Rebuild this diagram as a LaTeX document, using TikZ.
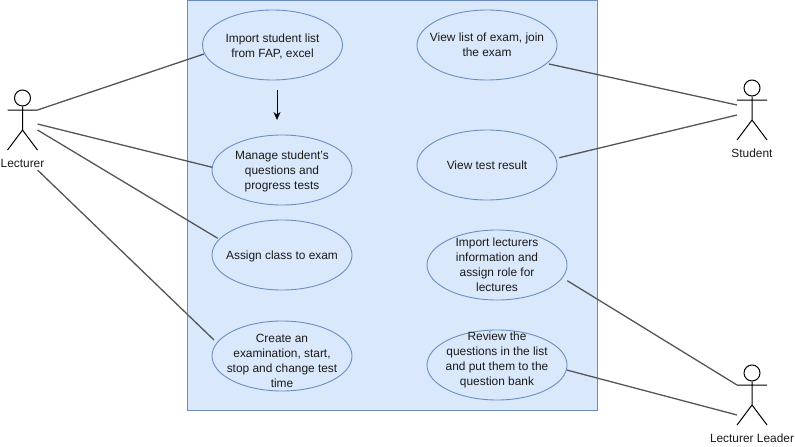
\documentclass[tikz,border=0pt]{standalone}
\usepackage{fontspec}
\setmainfont{Liberation Sans}
\definecolor{bluefill}{HTML}{DAE8FC}
\definecolor{bluestroke}{HTML}{6C8EBF}
\definecolor{linkgray}{HTML}{555555}
\definecolor{txt}{HTML}{1A1A1A}
\usetikzlibrary{shapes.geometric,arrows.meta,calc}
\tikzset{
  usecase/.style={ellipse,draw=bluestroke,fill=bluefill,line width=0.9pt,minimum width=140pt,minimum height=70pt,inner sep=0pt},
  usetext/.style={align=center,inner sep=0pt,font=\fontsize{11.9}{15}\selectfont,text=txt},
  link/.style={draw=linkgray,line width=1.3pt},
  stick/.style={draw=black,line width=1pt},
  head/.style={circle,draw=black,line width=1pt,minimum size=16pt,inner sep=0pt},
  actorlabel/.style={font=\fontsize{11.9}{15}\selectfont,text=txt,inner sep=0pt},
}
\newcommand{\usecasebox}[5]{% name, x, y, text offset, text
  \node[usecase] (#1) at (#2,#3) {};
  \node[usetext] (#1text) at (#2,#3+#4) {#5};
}
\newcommand{\actor}[4]{% name, x, headY, label
  \node[head] (#1) at (#2,#3) {};
  \coordinate (#1hip) at (#2,#3+32);
  \coordinate (#1la) at (#2-15,#3+12);
  \coordinate (#1ra) at (#2+15,#3+12);
  \coordinate (#1lf) at (#2-15,#3+52);
  \coordinate (#1rf) at (#2+15,#3+52);
  \draw[stick] (#1.south) -- (#1hip) -- (#1lf) (#1hip) -- (#1rf) (#1la) -- (#1ra);
  \node[actorlabel] (#1text) at (#2,#3+65) {#4};
}
\begin{document}
\begin{tikzpicture}[x=1pt,y=-1pt]
\useasboundingbox (0,0) rectangle (795,447);
\node[draw=bluestroke,fill=bluefill,line width=1pt,minimum width=410pt,minimum height=410pt,inner sep=0pt] (system) at (392,205) {};
\usecasebox{n1}{272.5}{45}{1}{Import student list\\from FAP, excel}
\usecasebox{n2}{282}{170}{1}{Manage student's\\questions and\\progress tests}
\usecasebox{n3}{282}{255}{1}{Assign class to exam}
\usecasebox{n4}{282}{356}{5}{Create an\\examination, start,\\stop and change test\\time}
\usecasebox{n5}{487}{45}{0}{View list of exam, join\\the exam}
\usecasebox{n6}{487}{165}{0}{View test result}
\usecasebox{n7}{497}{265}{0}{Import lecturers\\information and\\assign role for\\lectures}
\usecasebox{n8}{497}{365}{-5}{Review the\\questions in the list\\and put them to the\\question bank}
\actor{lec}{22.5}{98}{Lecturer}
\actor{stu}{752}{88}{Student}
\actor{lea}{752}{373}{Lecturer Leader}
\coordinate (lecA) at (37.5,110);
\coordinate (lecB) at (37.5,124);
\coordinate (lecC) at (37.5,130);
\coordinate (lecD) at (37.5,170);
\coordinate (stuA) at (737,105);
\coordinate (stuB) at (737,115);
\coordinate (leaA) at (737,385);
\coordinate (leaB) at (737,415);
\draw[link] (lecA) -- ($(n1.center)+(-68.5,9)$);
\draw[link] (lecB) -- ($(n2.center)+(-69.7,-2.7)$);
\draw[link] (lecC) -- ($(n3.center)+(-64.3,-16.7)$);
\draw[link] (lecD) -- ($(n4.center)+(-68,-16)$);
\draw[link] (stuA) -- ($(n5.center)+(62,19)$);
\draw[link] (stuB) -- ($(n6.center)+(72.3,-7.3)$);
\draw[link] (leaA) -- ($(n7.center)+(70.3,15.7)$);
\draw[link] (leaB) -- ($(n8.center)+(69.7,5)$);
\coordinate (arrowA) at (277,90);
\coordinate (arrowB) at (277,120);
\draw[black,line width=1pt,-{Stealth[length=8pt,width=7pt]}] (arrowA) -- (arrowB);
\end{tikzpicture}
\end{document}
